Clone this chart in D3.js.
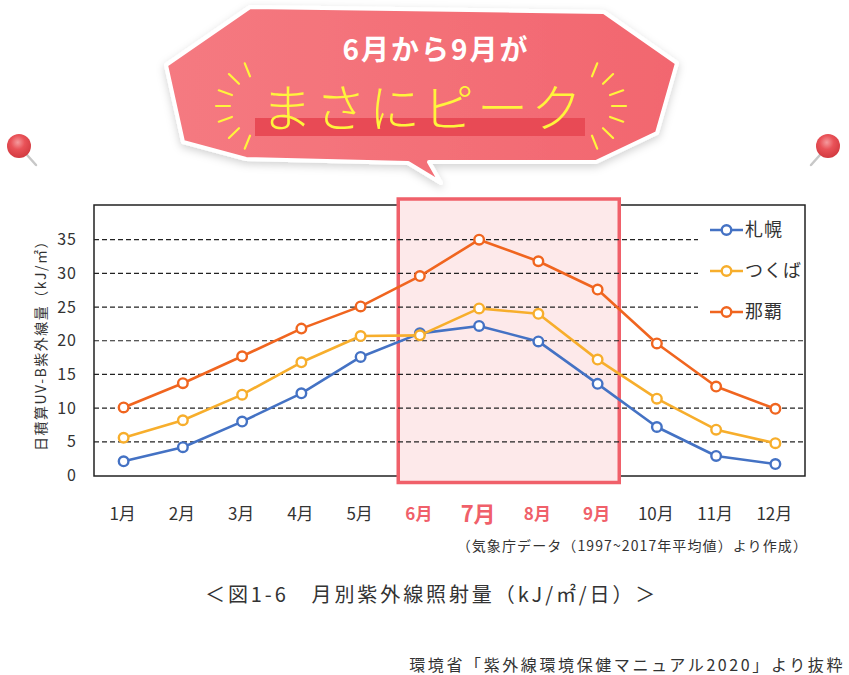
<!DOCTYPE html>
<html>
<head>
<meta charset="utf-8">
<script src="https://cdn.jsdelivr.net/npm/d3@7"></script>
<style>
  body { margin: 0; background: #fff; }
  text { font-family: "Noto Sans CJK JP", "Noto Sans", sans-serif; }
</style>
</head>
<body>
<div id="chart"></div>
<script>
// データ
const months = ['1月', '2月', '3月', '4月', '5月', '6月', '7月', '8月', '9月', '10月', '11月', '12月'];
const seriesNames = ['札幌', 'つくば', '那覇'];
const sapporo = [2.1, 4.2, 8.0, 12.2, 17.6, 21.1, 22.2, 19.9, 13.6, 7.2, 2.9, 1.7];
const tsukuba = [5.6, 8.2, 12.0, 16.8, 20.7, 20.8, 24.8, 24.0, 17.2, 11.4, 6.8, 4.8];
const naha = [10.1, 13.7, 17.7, 21.8, 25.1, 29.6, 35.0, 31.8, 27.6, 19.6, 13.2, 9.9];
const yTicks = [0, 5, 10, 15, 20, 25, 30, 35];
const peakMonths = ['6月', '7月', '8月', '9月'];

const colors = ['#4472c4', '#f7ae2c', '#f0651f'];
const allSeries = [sapporo, tsukuba, naha];

const width = 849, height = 675;
const svg = d3.select('#chart').append('svg')
    .attr('width', width)
    .attr('height', height);

const defs = svg.append('defs');

// 吹き出しのグラデーション
const grad = defs.append('linearGradient').attr('id', 'bubbleGrad')
    .attr('x1', 0).attr('x2', 1).attr('y1', 0).attr('y2', 0);
grad.append('stop').attr('offset', '0%').attr('stop-color', '#f57a81');
grad.append('stop').attr('offset', '100%').attr('stop-color', '#f2666f');

const shadow = defs.append('filter').attr('id', 'shadow')
    .attr('x', '-10%').attr('y', '-10%').attr('width', '120%').attr('height', '130%');
shadow.append('feDropShadow').attr('dx', 0).attr('dy', 3).attr('stdDeviation', 4)
    .attr('flood-color', '#000').attr('flood-opacity', 0.18);

const pinGrad = defs.append('radialGradient').attr('id', 'pinGrad')
    .attr('cx', '45%').attr('cy', '35%').attr('r', '65%');
pinGrad.append('stop').attr('offset', '0%').attr('stop-color', '#f59a9d');
pinGrad.append('stop').attr('offset', '45%').attr('stop-color', '#e95258');
pinGrad.append('stop').attr('offset', '100%').attr('stop-color', '#d23a40');

// スケール
const plot = { left: 94, right: 805, top: 205, bottom: 476 };

const x = d3.scaleBand()
    .domain(months)
    .range([plot.left, plot.right]);
const xc = m => x(m) + x.bandwidth() / 2;

const y = d3.scaleLinear()
    .domain([0, 40])
    .range([475.5, 206]);

// 吹き出し
const bubble = svg.append('g');
const bubblePts = [[250, 7], [604, 12], [677, 63], [657, 133], [596, 162], [429, 162],
    [441, 183], [408, 163], [246, 159], [183, 142], [166, 65]];
bubble.append('path')
    .attr('d', d3.line()(bubblePts) + 'Z')
    .attr('fill', 'url(#bubbleGrad)')
    .attr('stroke', '#fff')
    .attr('stroke-width', 4)
    .attr('stroke-linejoin', 'round')
    .attr('filter', 'url(#shadow)');

bubble.append('text')
    .attr('x', 436).attr('y', 60)
    .attr('text-anchor', 'middle')
    .attr('fill', '#fff')
    .attr('font-size', 28)
    .attr('font-weight', 700)
    .attr('letter-spacing', 2)
    .text('6月から9月が');

bubble.append('rect')
    .attr('x', 255).attr('y', 118)
    .attr('width', 330).attr('height', 18)
    .attr('fill', '#e84a55');

bubble.append('text')
    .attr('x', 423).attr('y', 127)
    .attr('text-anchor', 'middle')
    .attr('fill', '#fff43c')
    .attr('font-size', 51)
    .attr('font-weight', 300)
    .attr('letter-spacing', 3)
    .text('まさにピーク');

// キラキラ
const rays = [-68, -44, -20, 0, 20, 44, 68];
[[262, 106, -1], [580, 106, 1]].forEach(([cx, cy, dir]) => {
    bubble.append('g').selectAll('line')
        .data(rays)
        .enter().append('line')
        .attr('x1', a => cx + dir * 32 * Math.cos(a * Math.PI / 180))
        .attr('y1', a => cy + 32 * Math.sin(a * Math.PI / 180))
        .attr('x2', a => cx + dir * 46 * Math.cos(a * Math.PI / 180))
        .attr('y2', a => cy + 46 * Math.sin(a * Math.PI / 180))
        .attr('stroke', '#fff43c')
        .attr('stroke-width', 2.2)
        .attr('stroke-linecap', 'round');
});

// ピン
[[19, 146, 36, 165], [828, 146, 811, 165]].forEach(([cx, cy, nx, ny]) => {
    svg.append('line')
        .attr('x1', cx).attr('y1', cy).attr('x2', nx).attr('y2', ny)
        .attr('stroke', '#c8c8c8').attr('stroke-width', 2.5).attr('stroke-linecap', 'round');
    svg.append('circle')
        .attr('cx', cx).attr('cy', cy).attr('r', 12)
        .attr('fill', 'url(#pinGrad)');
});

// 枠
svg.append('rect')
    .attr('x', plot.left).attr('y', plot.top)
    .attr('width', plot.right - plot.left)
    .attr('height', plot.bottom - plot.top)
    .attr('fill', 'none')
    .attr('stroke', '#222')
    .attr('stroke-width', 1.5);

// 6月〜9月の強調
svg.append('rect')
    .attr('x', x('6月') + 8)
    .attr('y', y(40) - 7)
    .attr('width', x('9月') + x.bandwidth() - 8 - (x('6月') + 8))
    .attr('height', y(0) + 7 - (y(40) - 7))
    .attr('fill', '#fde9ea')
    .attr('stroke', '#f0606a')
    .attr('stroke-width', 3.5);

// グリッド線
svg.append('g').selectAll('line')
    .data(yTicks.filter(d => d > 0))
    .enter().append('line')
    .attr('x1', plot.left)
    .attr('x2', d => d >= 25 ? 698 : plot.right)
    .attr('y1', d => y(d)).attr('y2', d => y(d))
    .attr('stroke', '#222')
    .attr('stroke-width', 1.2)
    .attr('stroke-dasharray', '5,3');

// Y軸
const yAxis = svg.append('g')
    .attr('transform', `translate(${plot.left},0)`)
    .call(d3.axisLeft(y).tickValues(yTicks).tickSize(0).tickPadding(17));
yAxis.select('.domain').remove();
yAxis.selectAll('text')
    .attr('font-size', 16)
    .attr('fill', '#333')
    .attr('letter-spacing', 1)
    .style('font-family', '"Noto Sans CJK JP", sans-serif');

svg.append('text')
    .attr('transform', 'translate(46,342) rotate(-90)')
    .attr('text-anchor', 'middle')
    .attr('font-size', 14)
    .attr('letter-spacing', 1.5)
    .attr('fill', '#333')
    .text('日積算UV-B紫外線量（kJ/㎡）');

// X軸ラベル
svg.append('g').selectAll('text')
    .data(months)
    .enter().append('text')
    .attr('x', d => xc(d) - 1)
    .attr('y', d => d === '7月' ? 522 : 520)
    .attr('text-anchor', 'middle')
    .attr('font-size', d => d === '7月' ? 22 : 17)
    .attr('font-weight', d => peakMonths.includes(d) ? 700 : 400)
    .attr('fill', d => peakMonths.includes(d) ? '#f0606a' : '#333')
    .text(d => d);

// 折れ線
const line = d3.line()
    .x((d, i) => xc(months[i]))
    .y(d => y(d));

const series = svg.append('g').selectAll('g')
    .data(allSeries)
    .enter().append('g');

series.append('path')
    .attr('d', d => line(d))
    .attr('fill', 'none')
    .attr('stroke', (d, i) => colors[i])
    .attr('stroke-width', 2.6)
    .attr('stroke-linejoin', 'round');

series.each(function (d, si) {
    d3.select(this).selectAll('circle')
        .data(d)
        .enter().append('circle')
        .attr('cx', (v, i) => xc(months[i]))
        .attr('cy', v => y(v))
        .attr('r', 4.8)
        .attr('fill', '#fff')
        .attr('stroke', colors[si])
        .attr('stroke-width', 2.4);
});

// 凡例
const legend = svg.append('g').selectAll('g')
    .data(seriesNames)
    .enter().append('g')
    .attr('transform', (d, i) => `translate(710,${230 + i * 41})`);
legend.append('line')
    .attr('x1', 0).attr('x2', 33)
    .attr('stroke', (d, i) => colors[i])
    .attr('stroke-width', 2.6);
legend.append('circle')
    .attr('cx', 16.5).attr('r', 4.8)
    .attr('fill', '#fff')
    .attr('stroke', (d, i) => colors[i])
    .attr('stroke-width', 2.4);
legend.append('text')
    .attr('x', 35).attr('dy', '0.35em')
    .attr('font-size', 18)
    .attr('fill', '#333')
    .attr('letter-spacing', 1)
    .text(d => d);

// 注記
svg.append('text')
    .attr('x', 808).attr('y', 551)
    .attr('text-anchor', 'end')
    .attr('font-size', 14)
    .attr('letter-spacing', 1.1)
    .attr('fill', '#333')
    .text('（気象庁データ（1997~2017年平均値）より作成）');

svg.append('text')
    .attr('x', 205).attr('y', 602)
    .attr('font-size', 20)
    .attr('fill', '#333')
    .attr('letter-spacing', 2.9)
    .text('＜図1-6　月別紫外線照射量（kJ/㎡/日）＞');

svg.append('text')
    .attr('x', 845).attr('y', 671)
    .attr('text-anchor', 'end')
    .attr('font-size', 16)
    .attr('fill', '#333')
    .attr('letter-spacing', 2.6)
    .text('環境省「紫外線環境保健マニュアル2020」より抜粋');
</script>
</body>
</html>
